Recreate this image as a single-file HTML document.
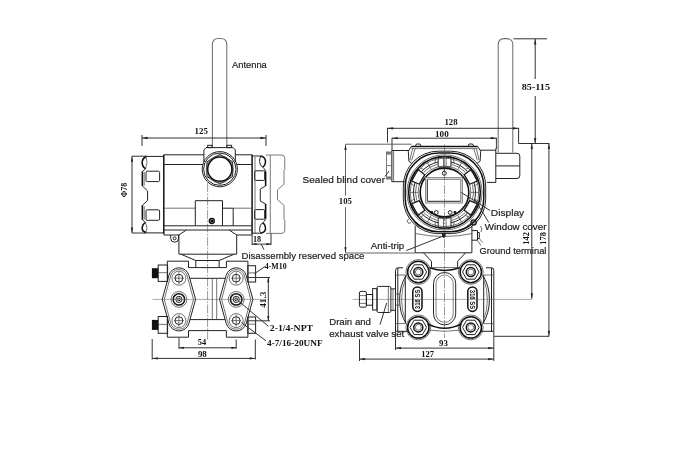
<!DOCTYPE html>
<html><head><meta charset="utf-8"><title>Dimension drawing</title>
<style>
html,body{margin:0;padding:0;background:#fff;}
body{width:680px;height:453px;overflow:hidden;}
svg{display:block;filter:grayscale(1)}
.m{stroke:#222;stroke-width:1;fill:none}
.t{stroke:#444;stroke-width:.75;fill:none}
.k{stroke:#111;stroke-width:1.5;fill:none}
.kk{stroke:#111;stroke-width:1.6;fill:none}
.g{stroke:#6a6a6a;stroke-width:.9;fill:none}
.m2{stroke:#1a1a1a;stroke-width:1.25;fill:none;stroke-linejoin:round}
.g2{stroke:#8a8a8a;stroke-width:1.1;fill:none}
.d{stroke:#333;stroke-width:1;fill:none}
.dg{stroke:#5a5a5a;stroke-width:.95;fill:none}
.c{stroke:#444;stroke-width:.55;fill:none;stroke-dasharray:9 1.5 1.5 1.5}
.c2{stroke:#555;stroke-width:.5;fill:none}
.a{fill:#222;stroke:none}
text{font-family:"Liberation Sans",Arial,sans-serif}
.an{stroke:#6e6e6e;stroke-width:1.05;fill:none}
.lbl{font-size:9.9px;fill:#222;stroke:#222;stroke-width:.2px}
.dim{font-family:"Liberation Serif","Times New Roman",serif;font-weight:bold;font-size:7.8px;fill:#111}
.ss{font-size:6.4px;font-weight:bold;fill:#111;dominant-baseline:central}
</style></head>
<body>
<svg width="680" height="453" viewBox="0 0 680 453">
<rect x="0" y="0" width="680" height="453" fill="#fff"/>
<path class="an" d="M212.4,147 V44.6 Q212.4,38.4 218.4,38.4 H220.8 Q226.8,38.4 226.8,44.6 V147"/>
<text class="lbl" x="232" y="67.5" text-anchor="start" textLength="34.8" lengthAdjust="spacingAndGlyphs">Antenna</text>
<line class="d" x1="142" y1="138" x2="266" y2="138"/>
<polygon class="a" points="142.00,138.00 147.60,136.85 147.60,139.15"/>
<polygon class="a" points="266.00,138.00 260.40,139.15 260.40,136.85"/>
<line class="d" x1="142" y1="135" x2="142" y2="146"/>
<line class="d" x1="266" y1="135" x2="266" y2="146"/>
<text class="dim" x="201.2" y="133.8" text-anchor="middle" textLength="13.2" lengthAdjust="spacingAndGlyphs">125</text>
<line class="d" x1="132" y1="156.2" x2="132" y2="233"/>
<polygon class="a" points="132.00,156.20 133.15,161.80 130.85,161.80"/>
<polygon class="a" points="132.00,233.00 130.85,227.40 133.15,227.40"/>
<line class="d" x1="132" y1="156.2" x2="147" y2="156.2"/>
<line class="d" x1="132" y1="233" x2="146" y2="233"/>
<text class="dim" x="127" y="190" text-anchor="middle" transform="rotate(-90 127 190)" textLength="14.5" lengthAdjust="spacingAndGlyphs">Φ78</text>
<path class="m" d="M163.8,154.8 H204 M235,154.8 H252.1"/>
<line class="k" x1="163.8" y1="154.8" x2="163.8" y2="234.6"/>
<line class="k" x1="252.1" y1="154.8" x2="252.1" y2="234.6"/>
<line class="m" x1="163.8" y1="164.5" x2="203" y2="164.5"/>
<line class="m" x1="236.8" y1="164.5" x2="252.1" y2="164.5"/>
<line class="t" x1="163.8" y1="208.2" x2="195.3" y2="208.2"/>
<line class="t" x1="233.2" y1="208.2" x2="252.1" y2="208.2"/>
<line class="m" x1="163.8" y1="225.8" x2="252.1" y2="225.8"/>
<path class="m" d="M163.8,230 H186.4 L178.9,235 H163.8"/>
<path class="m" d="M252.1,230 H229.2 L236.7,235 H252.1"/>
<line class="m" x1="186.4" y1="230" x2="229.2" y2="230"/>
<path class="m" d="M170.7,235 V238.3 A3.9,3.9 0 0 0 178.5,238.3 V235"/>
<circle class="m" cx="174.6" cy="238.3" r="1.5"/>
<path class="m" d="M195.3,225.8 V200.7 H222.5 V225.8"/>
<path class="m" d="M222.5,208.2 H233.2 V225.8"/>
<circle class="k" cx="211.8" cy="221" r="2.4"/>
<circle class="k" cx="211.8" cy="221" r="0.8"/>
<path class="m" d="M203.9,162 V150 L206,147.6 H233.2 L235.3,150 V162"/>
<rect class="m" x="207.7" y="145.3" width="4.3" height="2.3" rx="0"/>
<rect class="m" x="226.8" y="145.3" width="4.6" height="2.3" rx="0"/>
<circle class="m" cx="219.8" cy="169.2" r="17.6"/>
<circle class="m" cx="219.8" cy="169.2" r="16.2"/>
<circle class="k" cx="219.8" cy="169.2" r="12.1"/>
<path class="m" d="M232.62,176.60 L219.80,184.00 L206.98,176.60 L206.98,161.80 L219.80,154.40 L232.62,161.80 Z"/>
<circle class="t" cx="219.8" cy="169.2" r="13.6"/>
<path class="m" d="M163.8,156.4 H146 Q142.2,157.6 142.2,162.6 Q142.2,167.4 145.6,168.6 L142.4,171.6 V186 L147.6,191 V200.4 L142.4,205.4 V219.8 L145.6,222.6 Q142.2,223.8 142.2,228.6 Q142.2,231.8 146,232.9 H163.8"/>
<path class="k" d="M146,157 Q142.2,158 142.2,162.6 Q142.2,167.4 145.6,168.6"/>
<path class="k" d="M146,232.4 Q142.2,231.6 142.2,228.6 Q142.2,223.8 145.6,222.6"/>
<path class="t" d="M146,157 Q148.2,162.6 145.6,168.6 M146,232.4 Q148.2,228 145.6,222.6"/>
<rect class="m" x="146" y="171.2" width="13.6" height="10.4" rx="1.2"/>
<rect class="m" x="146" y="209.8" width="13.6" height="10.5" rx="1.2"/>
<line class="k" x1="142.4" y1="171.6" x2="142.4" y2="186"/>
<line class="k" x1="142.4" y1="205.4" x2="142.4" y2="219.8"/>
<line class="t" x1="144.2" y1="172" x2="144.2" y2="185.5"/>
<line class="t" x1="144.2" y1="206" x2="144.2" y2="219.4"/>
<path class="m" d="M252.1,156 H261 Q259.4,158 259.6,161.5 Q259.8,165.5 262.5,167 Q265,168.5 265.6,171.5 V186 L260.3,189 V201 L265.6,204 V218.5 Q265,221.5 262.5,223 Q259.8,224.5 259.6,228.5 Q259.4,232 261,233.2 H252.1"/>
<path class="k" d="M261,156 Q265.6,157.5 265.5,161.5 Q265.3,166 262.5,167"/>
<path class="k" d="M261,233.2 Q265.6,232 265.5,228.5 Q265.3,224 262.5,223"/>
<rect class="m" x="254.6" y="170.8" width="10.1" height="9.6" rx="1"/>
<rect class="m" x="254.6" y="209.6" width="10.1" height="9.6" rx="1"/>
<line class="k" x1="265.6" y1="171.5" x2="265.6" y2="186"/>
<line class="k" x1="265.6" y1="204" x2="265.6" y2="218.5"/>
<line class="t" x1="255" y1="157" x2="255" y2="233"/>
<path class="g" d="M270.3,155 H282 Q284.8,155.5 284.8,158.5 V169.5 L284,170.5 V184 L277.5,190 V199.5 L284,205.5 V219.5 L284.8,220.5 V230 Q284.8,233 282,233.4 H270.3 Z"/>
<line class="g" x1="266" y1="155" x2="270.3" y2="155"/>
<line class="g" x1="266" y1="233.4" x2="270.3" y2="233.4"/>
<line class="d" x1="252" y1="244.1" x2="271" y2="244.1"/>
<polygon class="a" points="252.00,244.10 256.60,243.00 256.60,245.20"/>
<polygon class="a" points="271.00,244.10 266.40,245.20 266.40,243.00"/>
<line class="d" x1="252.1" y1="234.6" x2="252.1" y2="245"/>
<line class="d" x1="271" y1="233.4" x2="271" y2="245"/>
<text class="dim" x="257" y="241.6" text-anchor="middle" textLength="8.2" lengthAdjust="spacingAndGlyphs">18</text>
<line class="d" x1="261.2" y1="244.1" x2="263.9" y2="249.6"/>
<text class="lbl" x="241.5" y="258.9" text-anchor="start" textLength="122.8" lengthAdjust="spacingAndGlyphs">Disassembly reserved space</text>
<path class="m" d="M178.9,234.6 V254.2 H236.7 V234.6"/>
<path class="m" d="M180.8,254.2 L195.8,260.5 V267.6 M234.2,254.2 L219.1,260.5 V267.6"/>
<line class="m" x1="195.8" y1="260.5" x2="219.1" y2="260.5"/>
<path class="m" d="M188.5,267.6 V261.2 H167.3 V281.4"/>
<path class="m" d="M226.4,267.6 V261.2 H247.9 V281.4"/>
<line class="m" x1="188.5" y1="267.6" x2="226.4" y2="267.6"/>
<line class="m" x1="190" y1="278.3" x2="225.2" y2="278.3"/>
<path class="m" d="M188.5,330.6 V337.2 H167.3 V317.6"/>
<path class="m" d="M226.4,330.6 V337.2 H247.9 V317.6"/>
<line class="m" x1="190" y1="319.6" x2="225.2" y2="319.6"/>
<line class="m" x1="188.5" y1="330.6" x2="226.4" y2="330.6"/>
<rect class="m" x="158.2" y="265" width="9.4" height="16.4" rx="0"/>
<line class="t" x1="158.2" y1="272.7" x2="167.6" y2="272.7"/>
<rect x="151.9" y="268.2" width="6.3" height="10" fill="#111"/>
<rect class="m" x="158.2" y="316.5" width="9.4" height="16.8" rx="0"/>
<line class="t" x1="158.2" y1="324.4" x2="167.6" y2="324.4"/>
<rect x="151.9" y="319.9" width="6.3" height="10" fill="#111"/>
<rect class="m" x="247.9" y="265.7" width="7.7" height="16.3" rx="0"/>
<line class="t" x1="247.9" y1="272.85" x2="255.6" y2="272.85"/>
<rect class="m" x="247.9" y="317" width="7.7" height="16.3" rx="0"/>
<line class="t" x1="247.9" y1="324.15" x2="255.6" y2="324.15"/>
<path class="m" d="M168.88,275.41 L162.20,299.40 L168.88,323.39 A10.4,10.4 0 0 0 188.92,323.39 L195.60,299.40 L188.92,275.41 A10.4,10.4 0 0 0 168.88,275.41 Z"/>
<path class="t" d="M170.59,275.97 L164.30,299.40 L170.59,322.83 A8.6,8.6 0 0 0 187.21,322.83 L193.50,299.40 L187.21,275.97 A8.6,8.6 0 0 0 170.59,275.97 Z"/>
<circle class="t" cx="178.9" cy="278.2" r="7"/>
<circle class="m" cx="178.9" cy="278.2" r="3.9"/>
<line class="t" x1="173.9" y1="278.2" x2="183.9" y2="278.2"/>
<line class="t" x1="178.9" y1="272.2" x2="178.9" y2="284.2"/>
<circle class="t" cx="178.9" cy="320.6" r="7"/>
<circle class="m" cx="178.9" cy="320.6" r="3.9"/>
<line class="t" x1="173.9" y1="320.6" x2="183.9" y2="320.6"/>
<line class="t" x1="178.9" y1="314.6" x2="178.9" y2="326.6"/>
<circle class="t" cx="178.9" cy="299.4" r="7.9"/>
<circle class="k" cx="178.9" cy="299.4" r="5.7"/>
<circle class="m" cx="178.9" cy="299.4" r="3.1"/>
<circle class="m" cx="178.9" cy="299.4" r="1.4"/>
<path class="m" d="M226.18,275.41 L219.50,299.40 L226.18,323.39 A10.4,10.4 0 0 0 246.22,323.39 L252.90,299.40 L246.22,275.41 A10.4,10.4 0 0 0 226.18,275.41 Z"/>
<path class="t" d="M227.89,275.97 L221.60,299.40 L227.89,322.83 A8.6,8.6 0 0 0 244.51,322.83 L250.80,299.40 L244.51,275.97 A8.6,8.6 0 0 0 227.89,275.97 Z"/>
<circle class="t" cx="236.2" cy="278.2" r="7"/>
<circle class="m" cx="236.2" cy="278.2" r="3.9"/>
<line class="t" x1="231.2" y1="278.2" x2="241.2" y2="278.2"/>
<line class="t" x1="236.2" y1="272.2" x2="236.2" y2="284.2"/>
<circle class="t" cx="236.2" cy="320.6" r="7"/>
<circle class="m" cx="236.2" cy="320.6" r="3.9"/>
<line class="t" x1="231.2" y1="320.6" x2="241.2" y2="320.6"/>
<line class="t" x1="236.2" y1="314.6" x2="236.2" y2="326.6"/>
<circle class="t" cx="236.2" cy="299.4" r="7.9"/>
<circle class="k" cx="236.2" cy="299.4" r="5.7"/>
<circle class="m" cx="236.2" cy="299.4" r="3.1"/>
<circle class="m" cx="236.2" cy="299.4" r="1.4"/>
<line class="c" x1="207.6" y1="183" x2="207.6" y2="339.5"/>
<line class="t" x1="212.3" y1="278.3" x2="212.3" y2="319.6"/>
<line class="t" x1="216.7" y1="278.3" x2="216.7" y2="319.6"/>
<line class="c2" x1="152.5" y1="299.4" x2="266" y2="299.4"/>
<line class="d" x1="179" y1="337.6" x2="179" y2="348.8"/>
<line class="d" x1="236.2" y1="339.5" x2="236.2" y2="348.8"/>
<line class="d" x1="268.3" y1="277.5" x2="268.3" y2="320.8"/>
<polygon class="a" points="268.30,277.50 269.40,282.30 267.20,282.30"/>
<polygon class="a" points="268.30,320.80 267.20,316.00 269.40,316.00"/>
<line class="d" x1="248" y1="277.5" x2="270" y2="277.5"/>
<line class="d" x1="248" y1="320.8" x2="270" y2="320.8"/>
<text class="dim" x="265.9" y="299.7" text-anchor="middle" transform="rotate(-90 265.9 299.7)" textLength="16" lengthAdjust="spacingAndGlyphs">41.3</text>
<text class="dim" x="264.8" y="268.6" text-anchor="start" textLength="21.8" lengthAdjust="spacingAndGlyphs">4-M10</text>
<line class="d" x1="265" y1="266.5" x2="254.3" y2="273.8"/>
<text class="dim" x="269.8" y="330.5" text-anchor="start" textLength="43.3" lengthAdjust="spacingAndGlyphs">2-1/4-NPT</text>
<line class="d" x1="238.8" y1="301.3" x2="268.5" y2="326.4"/>
<text class="dim" x="267" y="346.4" text-anchor="start" textLength="55.6" lengthAdjust="spacingAndGlyphs">4-7/16-20UNF</text>
<line class="d" x1="241.3" y1="322.5" x2="266" y2="340.8"/>
<line class="d" x1="179" y1="347.8" x2="236.2" y2="347.8"/>
<polygon class="a" points="179.00,347.80 183.80,346.70 183.80,348.90"/>
<polygon class="a" points="236.20,347.80 231.40,348.90 231.40,346.70"/>
<text class="dim" x="202" y="345.2" text-anchor="middle" textLength="8.4" lengthAdjust="spacingAndGlyphs">54</text>
<line class="d" x1="152.2" y1="358.4" x2="255.3" y2="358.4"/>
<polygon class="a" points="152.20,358.40 157.80,357.25 157.80,359.55"/>
<polygon class="a" points="255.30,358.40 249.70,359.55 249.70,357.25"/>
<line class="d" x1="152.2" y1="339" x2="152.2" y2="359.5"/>
<line class="d" x1="255.3" y1="339.5" x2="255.3" y2="359.5"/>
<text class="dim" x="202.3" y="357.4" text-anchor="middle" textLength="8.8" lengthAdjust="spacingAndGlyphs">98</text>
<path class="an" d="M498.2,152.5 V44.8 Q498.2,38.6 504.2,38.6 H506.8 Q512.8,38.6 512.8,44.8 V152.5"/>
<line class="d" x1="513.5" y1="38.8" x2="547" y2="38.8"/>
<line class="d" x1="535.2" y1="38.8" x2="535.2" y2="79"/>
<line class="d" x1="535.2" y1="96" x2="535.2" y2="143.5"/>
<polygon class="a" points="535.20,38.80 536.35,44.40 534.05,44.40"/>
<polygon class="a" points="535.20,143.50 534.05,137.90 536.35,137.90"/>
<text class="dim" x="535.9" y="89.6" text-anchor="middle" textLength="28.2" lengthAdjust="spacingAndGlyphs">85-115</text>
<line class="d" x1="387.5" y1="128.3" x2="518.6" y2="128.3"/>
<polygon class="a" points="387.50,128.30 393.10,127.15 393.10,129.45"/>
<polygon class="a" points="518.60,128.30 513.00,129.45 513.00,127.15"/>
<line class="d" x1="387.5" y1="127.8" x2="387.5" y2="142.5"/>
<path class="d" d="M518.6,127.8 V143.5 H549.4"/>
<text class="dim" x="451" y="125.3" text-anchor="middle" textLength="13" lengthAdjust="spacingAndGlyphs">128</text>
<line class="d" x1="392" y1="138.2" x2="496.4" y2="138.2"/>
<polygon class="a" points="392.00,138.20 397.60,137.05 397.60,139.35"/>
<polygon class="a" points="496.40,138.20 490.80,139.35 490.80,137.05"/>
<line class="d" x1="392" y1="137.7" x2="392" y2="150.5"/>
<line class="d" x1="496.4" y1="137.7" x2="496.4" y2="149"/>
<text class="dim" x="441.9" y="136.6" text-anchor="middle" textLength="13.7" lengthAdjust="spacingAndGlyphs">100</text>
<line class="dg" x1="345.5" y1="144.3" x2="345.5" y2="195.5"/>
<line class="dg" x1="345.5" y1="207.2" x2="345.5" y2="252.8"/>
<polygon class="a" points="345.50,144.30 346.65,149.90 344.35,149.90"/>
<polygon class="a" points="345.50,252.80 344.35,247.20 346.65,247.20"/>
<line class="dg" x1="345.5" y1="144.2" x2="411.4" y2="144.2"/>
<line class="dg" x1="345.5" y1="253" x2="415" y2="253"/>
<text class="dim" x="345.4" y="203.8" text-anchor="middle" textLength="13.2" lengthAdjust="spacingAndGlyphs">105</text>
<line class="d" x1="531.8" y1="143.5" x2="531.8" y2="298.8"/>
<polygon class="a" points="531.80,143.50 532.95,149.10 530.65,149.10"/>
<polygon class="a" points="531.80,298.80 530.65,293.20 532.95,293.20"/>
<line class="d" x1="548.9" y1="143.5" x2="548.9" y2="336.3"/>
<polygon class="a" points="548.90,143.50 550.05,149.10 547.75,149.10"/>
<polygon class="a" points="548.90,336.30 547.75,330.70 550.05,330.70"/>
<line class="d" x1="494" y1="336.3" x2="549.2" y2="336.3"/>
<text class="dim" x="528.8" y="238.4" text-anchor="middle" transform="rotate(-90 528.8 238.4)" textLength="12.7" lengthAdjust="spacingAndGlyphs">142</text>
<text class="dim" x="545.7" y="238.4" text-anchor="middle" transform="rotate(-90 545.7 238.4)" textLength="12.7" lengthAdjust="spacingAndGlyphs">178</text>
<path class="m" d="M409,150.5 H391.8 V181.7 H404.8"/>
<line class="t" x1="393.6" y1="150.5" x2="393.6" y2="181.7"/>
<rect class="g" x="386.5" y="152" width="5.3" height="27" rx="0"/>
<line class="g" x1="386.5" y1="165.6" x2="391.8" y2="165.6"/>
<rect x="386.5" y="152" width="5.3" height="2.6" fill="#777"/><rect x="386.5" y="176.4" width="5.3" height="2.6" fill="#777"/>
<path class="m" d="M480,150.2 H495.8 M495.8,153.3 H517 Q519.8,153.3 519.8,156 V175.8 Q519.8,178.5 517,178.5 H495.8 M495.8,148.5 V182.4 H487"/>
<line class="m" x1="495.8" y1="165.9" x2="519.8" y2="165.9"/>
<path class="k" d="M411.2,146.6 H477.8"/>
<path class="m" d="M411.2,146.6 L408.3,151.2 L408.9,161.2 L411.8,163.2 M477.8,146.6 L480.7,151.2 L480.1,161.2 L477.2,163.2"/>
<line class="t" x1="411.5" y1="148.6" x2="477.5" y2="148.6"/>
<path class="m" d="M415.2,146.6 L416.4,144 H420 L421.2,146.6 M467.8,146.6 L469,144 H472.6 L473.8,146.6"/>
<path class="t" d="M415.2,148.6 L411.6,160.5 M412.6,148.6 L409.9,160 M473.8,148.6 L477.4,160.5 M476.4,148.6 L479.1,160"/>
<rect class="m" x="403.3" y="151.2" width="82.4" height="82.4" rx="35"/>
<rect class="k" x="405.2" y="153.1" width="78.6" height="78.6" rx="33.5"/>
<circle class="t" cx="444.5" cy="192.4" r="37.6"/>
<circle class="kk" cx="444.5" cy="192.4" r="35.8"/>
<circle class="t" cx="444.5" cy="192.4" r="34.2"/>
<circle class="t" cx="444.5" cy="192.4" r="26.3"/>
<circle class="kk" cx="444.5" cy="192.4" r="24.3"/>
<path class="m2" d="M469.70,184.21 L477.55,180.89 L470.99,169.53 L464.19,174.67 Z"/>
<path class="m2" d="M424.81,174.67 L418.01,169.53 L411.45,180.89 L419.30,184.21 Z"/>
<path class="m2" d="M419.30,200.59 L411.45,203.91 L418.01,215.27 L424.81,210.13 Z"/>
<path class="m2" d="M464.19,210.13 L470.99,215.27 L477.55,203.91 L469.70,200.59 Z"/>
<path class="m" d="M467.54,171.66 A31,31 0 0 0 450.95,162.08"/>
<path class="t" d="M465.36,172.25 A29,29 0 0 0 451.52,164.26"/>
<path class="m" d="M438.05,162.08 A31,31 0 0 0 421.46,171.66"/>
<path class="t" d="M437.48,164.26 A29,29 0 0 0 423.64,172.25"/>
<path class="m" d="M415.02,182.82 A31,31 0 0 0 415.02,201.98"/>
<path class="t" d="M416.62,184.41 A29,29 0 0 0 416.62,200.39"/>
<path class="m" d="M421.46,213.14 A31,31 0 0 0 438.05,222.72"/>
<path class="t" d="M423.64,212.55 A29,29 0 0 0 437.48,220.54"/>
<path class="m" d="M450.95,222.72 A31,31 0 0 0 467.54,213.14"/>
<path class="t" d="M451.52,220.54 A29,29 0 0 0 465.36,212.55"/>
<path class="m" d="M473.98,201.98 A31,31 0 0 0 473.98,182.82"/>
<path class="t" d="M472.38,200.39 A29,29 0 0 0 472.38,184.41"/>
<line class="t" x1="457.75" y1="169.45" x2="461.75" y2="162.52"/>
<line class="t" x1="431.25" y1="169.45" x2="427.25" y2="162.52"/>
<line class="t" x1="431.25" y1="215.35" x2="427.25" y2="222.28"/>
<line class="t" x1="457.75" y1="215.35" x2="461.75" y2="222.28"/>
<line class="t" x1="471.0" y1="192.4" x2="479.0" y2="192.4"/>
<line class="t" x1="418.0" y1="192.4" x2="410.0" y2="192.4"/>
<line class="t" x1="465.24" y1="169.36" x2="468.97" y2="167.93"/>
<line class="t" x1="454.08" y1="162.92" x2="453.46" y2="158.98"/>
<line class="t" x1="434.92" y1="162.92" x2="435.54" y2="158.98"/>
<line class="t" x1="423.76" y1="169.36" x2="420.03" y2="167.93"/>
<line class="t" x1="414.18" y1="185.95" x2="411.08" y2="183.44"/>
<line class="t" x1="414.18" y1="198.85" x2="411.08" y2="201.36"/>
<line class="t" x1="423.76" y1="215.44" x2="420.03" y2="216.87"/>
<line class="t" x1="434.92" y1="221.88" x2="435.54" y2="225.82"/>
<line class="t" x1="454.08" y1="221.88" x2="453.46" y2="225.82"/>
<line class="t" x1="465.24" y1="215.44" x2="468.97" y2="216.87"/>
<line class="t" x1="474.82" y1="198.85" x2="477.92" y2="201.36"/>
<line class="t" x1="474.82" y1="185.95" x2="477.92" y2="183.44"/>
<rect class="m" x="438.2" y="156.6" width="12.8" height="10.6" rx="0.8"/>
<line class="t" x1="443.5" y1="156.6" x2="443.5" y2="167.2"/>
<line class="t" x1="446.1" y1="156.6" x2="446.1" y2="167.2"/>
<rect class="m" x="438.2" y="217.6" width="12.8" height="10.6" rx="0.8"/>
<line class="t" x1="443.5" y1="217.6" x2="443.5" y2="228.2"/>
<line class="t" x1="446.1" y1="217.6" x2="446.1" y2="228.2"/>
<line class="m" x1="444.3" y1="167.2" x2="444.3" y2="171.2"/>
<circle class="m" cx="444.3" cy="173.3" r="2"/>
<circle class="m" cx="436.3" cy="212.5" r="1.9"/>
<circle class="m" cx="450.2" cy="212.5" r="1.9"/>
<circle class="k" cx="431.8" cy="212.5" r="0.7"/>
<circle class="k" cx="455" cy="212.5" r="0.7"/>
<path class="t" d="M409.5,218.5 L407,220.5 L408.5,223.5 L411,222.5"/>
<rect class="g2" x="425.6" y="177.6" width="36.8" height="25.4" rx="0"/>
<path class="m" d="M427.3,179.3 V201.3 H460.8"/>
<path class="t" d="M427.3,179.3 H460.8 V201.3"/>
<circle class="m2" cx="473.6" cy="222.4" r="2.6"/>
<path class="t" d="M467,226 L476,219 M414,222 L419,227"/>
<line class="c" x1="444.5" y1="144.5" x2="444.5" y2="338"/>
<path class="m" d="M415.2,226 V252.8 H471.9 V226"/>
<path class="t" d="M415,233.5 Q444.5,239.5 472.6,233.5"/>
<path class="m" d="M423.5,252.8 L431.5,261.3 V267.6 M465.6,252.8 L457.6,261.3 V267.6"/>
<path class="a" d="M442,233.2 h3.6 v3.4 l-1.8,1.6 l-1.8,-1.6 z"/>
<path class="m" d="M471.9,230.6 H477.5 V240.2 H471.9 M477.5,232.5 H479.3 V238.5 H477.5"/>
<path class="t" d="M477.5,240.5 L481,245.5 M479.3,238.5 L482.5,242.5"/>
<path class="t" d="M480.5,226 Q483,229 481,232"/>
<text class="lbl" x="302.6" y="183.4" text-anchor="start" textLength="82.4" lengthAdjust="spacingAndGlyphs">Sealed blind cover</text>
<line class="d" x1="384.9" y1="176.5" x2="389.1" y2="171"/>
<text class="lbl" x="490.8" y="215.7" text-anchor="start" textLength="33.4" lengthAdjust="spacingAndGlyphs">Display</text>
<line class="d" x1="461.3" y1="192.5" x2="490" y2="210.5"/>
<text class="lbl" x="484.8" y="230" text-anchor="start" textLength="61.6" lengthAdjust="spacingAndGlyphs">Window cover</text>
<line class="d" x1="475" y1="200" x2="488.8" y2="222.5"/>
<text class="lbl" x="479.5" y="253.5" text-anchor="start" textLength="66.9" lengthAdjust="spacingAndGlyphs">Ground terminal</text>
<text class="lbl" x="370.8" y="249" text-anchor="start" textLength="33.4" lengthAdjust="spacingAndGlyphs">Anti-trip</text>
<line class="d" x1="406.3" y1="250.6" x2="442.5" y2="236.3"/>
<text class="lbl" x="329.2" y="325.4" text-anchor="start" textLength="41.8" lengthAdjust="spacingAndGlyphs">Drain and</text>
<text class="lbl" x="329.2" y="337" text-anchor="start" textLength="75.1" lengthAdjust="spacingAndGlyphs">exhaust valve set</text>
<line class="d" x1="386.7" y1="303" x2="380" y2="324.7"/>
<path class="m" d="M403,267.8 H398 Q395.5,267.8 395.5,270.3 V331.3 M486,267.8 H491.3 Q493.8,267.8 493.8,270.3 V331.3"/>
<line class="m" x1="397.8" y1="268" x2="397.8" y2="331.3"/>
<line class="m" x1="491.5" y1="268" x2="491.5" y2="331.3"/>
<path class="m" d="M395.5,331.3 H409 M480,331.3 H493.8"/>
<circle class="t" cx="418.3" cy="272" r="12.4"/>
<circle class="k" cx="418.3" cy="272" r="10.7"/>
<circle class="k" cx="418.3" cy="272" r="4.5"/>
<circle class="t" cx="418.3" cy="272" r="2.9"/>
<path class="m" d="M426.60,272.00 L422.45,279.19 L414.15,279.19 L410.00,272.00 L414.15,264.81 L422.45,264.81 Z"/>
<circle class="t" cx="418.3" cy="327.4" r="12.4"/>
<circle class="k" cx="418.3" cy="327.4" r="10.7"/>
<circle class="k" cx="418.3" cy="327.4" r="4.5"/>
<circle class="t" cx="418.3" cy="327.4" r="2.9"/>
<path class="m" d="M426.60,327.40 L422.45,334.59 L414.15,334.59 L410.00,327.40 L414.15,320.21 L422.45,320.21 Z"/>
<circle class="t" cx="470.8" cy="272" r="12.4"/>
<circle class="k" cx="470.8" cy="272" r="10.7"/>
<circle class="k" cx="470.8" cy="272" r="4.5"/>
<circle class="t" cx="470.8" cy="272" r="2.9"/>
<path class="m" d="M479.10,272.00 L474.95,279.19 L466.65,279.19 L462.50,272.00 L466.65,264.81 L474.95,264.81 Z"/>
<circle class="t" cx="470.8" cy="327.4" r="12.4"/>
<circle class="k" cx="470.8" cy="327.4" r="10.7"/>
<circle class="k" cx="470.8" cy="327.4" r="4.5"/>
<circle class="t" cx="470.8" cy="327.4" r="2.9"/>
<path class="m" d="M479.10,327.40 L474.95,334.59 L466.65,334.59 L462.50,327.40 L466.65,320.21 L474.95,320.21 Z"/>
<path class="k" d="M429.5,267.8 Q444.6,273 459.7,267.8"/>
<path class="k" d="M427.7,323.9 Q444.6,332.6 461.4,323.9"/>
<path class="t" d="M429.5,330.2 Q444.6,332.4 459.7,330.2"/>
<line class="t" x1="431.5" y1="267.6" x2="457.6" y2="267.6"/>
<line class="m" x1="405.3" y1="275" x2="405.3" y2="323.6"/>
<line class="m" x1="483.7" y1="275" x2="483.7" y2="323.6"/>
<path class="m" d="M405.8,276 Q399.6,286 399.6,299.5 Q399.6,313 405.8,323"/>
<path class="m" d="M483.2,276 Q489.4,286 489.4,299.5 Q489.4,313 483.2,323"/>
<path class="g" d="M405.5,279 Q401.6,288 401.6,299.5 Q401.6,311 405.5,320"/>
<path class="g" d="M483.5,279 Q487.4,288 487.4,299.5 Q487.4,311 483.5,320"/>
<line class="t" x1="395.5" y1="275" x2="405.3" y2="275"/>
<line class="t" x1="483.7" y1="275" x2="493.8" y2="275"/>
<line class="t" x1="395.5" y1="323.6" x2="405.3" y2="323.6"/>
<line class="t" x1="483.7" y1="323.6" x2="493.8" y2="323.6"/>
<line class="t" x1="395.5" y1="294" x2="399.8" y2="294"/>
<line class="t" x1="395.5" y1="305" x2="399.8" y2="305"/>
<path class="m" d="M433.5,313.8 V283.6 A11.1,11.1 0 0 1 455.7,283.6 V313.8 A11.1,11.1 0 0 1 433.5,313.8 Z"/>
<path class="g2" d="M436,313.8 V283.6 A8.6,8.6 0 0 1 453.2,283.6 V313.8 A8.6,8.6 0 0 1 436,313.8 Z"/>
<rect class="k" x="412.79999999999995" y="287" width="9.2" height="24.4" rx="4.6"/>
<rect class="k" x="467.79999999999995" y="287" width="9.2" height="24.4" rx="4.6"/>
<text class="ss" x="417.5" y="299.4" text-anchor="middle" transform="rotate(-90 417.5 299.4)" textLength="19.5" lengthAdjust="spacingAndGlyphs">316 SS</text>
<text class="ss" x="472.4" y="299.4" text-anchor="middle" transform="rotate(90 472.4 299.4)" textLength="19.5" lengthAdjust="spacingAndGlyphs">316 SS</text>
<line class="c2" x1="352.5" y1="299.4" x2="531.8" y2="299.4"/>
<rect class="m" x="359.4" y="291.4" width="7.0" height="15.8" rx="1.5"/>
<line class="t" x1="359.4" y1="295.6" x2="366.4" y2="295.6"/>
<line class="t" x1="359.4" y1="303.4" x2="366.4" y2="303.4"/>
<rect class="m" x="366.4" y="294.5" width="6.2" height="10.7" rx="0"/>
<rect class="m" x="372.6" y="288.6" width="4.4" height="21.4" rx="0"/>
<rect class="m" x="377" y="286.4" width="13.9" height="26.1" rx="1.5"/>
<line class="t" x1="388.3" y1="286.6" x2="388.3" y2="312.3"/>
<path class="m" d="M390.9,288.9 H395.3 M390.9,310.3 H395.3"/>
<line class="t" x1="393" y1="288.9" x2="393" y2="310.3"/>
<line class="d" x1="395.5" y1="348.1" x2="493.8" y2="348.1"/>
<polygon class="a" points="395.50,348.10 401.10,346.95 401.10,349.25"/>
<polygon class="a" points="493.80,348.10 488.20,349.25 488.20,346.95"/>
<line class="d" x1="395.5" y1="331.3" x2="395.5" y2="350"/>
<line class="d" x1="493.8" y1="331.3" x2="493.8" y2="361"/>
<text class="dim" x="443.5" y="345.5" text-anchor="middle" textLength="8.9" lengthAdjust="spacingAndGlyphs">93</text>
<line class="d" x1="359.5" y1="359.1" x2="493.8" y2="359.1"/>
<polygon class="a" points="359.50,359.10 365.10,357.95 365.10,360.25"/>
<polygon class="a" points="493.80,359.10 488.20,360.25 488.20,357.95"/>
<line class="d" x1="359.5" y1="339.2" x2="359.5" y2="361"/>
<text class="dim" x="427.7" y="356.6" text-anchor="middle" textLength="12.8" lengthAdjust="spacingAndGlyphs">127</text>
</svg>
</body></html>
